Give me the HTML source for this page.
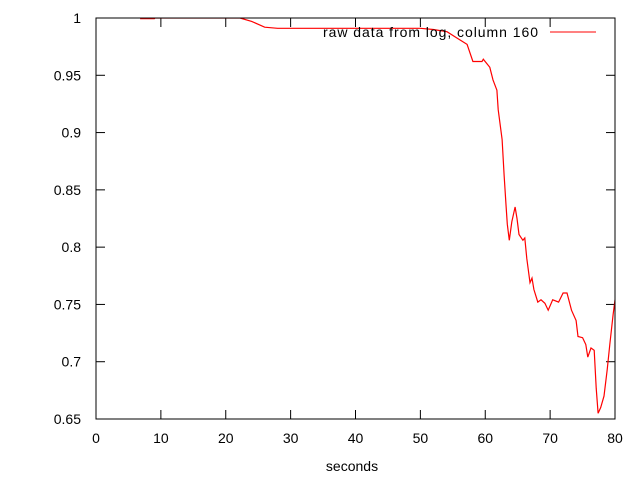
<!DOCTYPE html>
<html><head><meta charset="utf-8"><style>
body{margin:0;background:#fff}
svg{display:block;font-family:"Liberation Sans",sans-serif;font-size:14px}
</style></head><body>
<svg id="chart" width="640" height="480">
<defs><clipPath id="clip"><rect x="96" y="18" width="519" height="401"/></clipPath></defs>
<g id="axes"></g>
<g id="series" clip-path="url(#clip)"></g>
<rect x="96" y="18" width="519" height="401" fill="none" stroke="#000" stroke-width="1"/>
<text x="352" y="471" text-anchor="middle" fill="#000">seconds</text>
<text x="323" y="37" textLength="215" lengthAdjust="spacing" fill="#000">raw data from log, column 160</text>
<line x1="550" y1="32" x2="596" y2="32" stroke="#f00" stroke-width="1"/>
</svg>
<script>
const xTicks=[0,10,20,30,40,50,60,70,80];
const yTicks=[0.65,0.7,0.75,0.8,0.85,0.9,0.95,1];
const yTickLabels=["0.65","0.7","0.75","0.8","0.85","0.9","0.95","1"];
const times=[6.8,9,9.1,22.2,24,26,28,30,35,40,45,50,52,54.1,55.5,57.2,58.1,59.5,59.7,60.7,61.2,61.8,62,62.6,62.9,63.2,63.4,63.7,64.1,64.6,64.9,65.2,65.8,66.1,66.4,66.9,67.2,67.5,68.1,68.6,69.2,69.7,70.4,71.3,72,72.6,73.3,74,74.3,75,75.5,75.8,76.3,76.8,77.1,77.4,77.8,78.3,78.8,79.2,79.7,80];
const values=[0.9995,0.9995,1,1,0.997,0.992,0.991,0.991,0.991,0.991,0.991,0.991,0.99,0.988,0.983,0.977,0.962,0.962,0.964,0.957,0.946,0.937,0.92,0.894,0.863,0.837,0.82,0.806,0.822,0.835,0.825,0.811,0.806,0.808,0.79,0.769,0.773,0.763,0.752,0.754,0.751,0.745,0.754,0.752,0.76,0.76,0.745,0.736,0.722,0.721,0.715,0.704,0.712,0.71,0.677,0.655,0.66,0.67,0.693,0.715,0.741,0.754];
const X=t=>96+t*(519/80);
const Y=v=>18+(1-v)*(401/0.35);
const ns="http://www.w3.org/2000/svg";
const axes=document.getElementById('axes');
function mk(tag,attrs,parent){const e=document.createElementNS(ns,tag);for(const k in attrs)e.setAttribute(k,attrs[k]);parent.appendChild(e);return e;}
xTicks.forEach(t=>{
 const x=X(t);
 const l1=mk('line',{x1:x,y1:419,x2:x,y2:410,stroke:'#000'},axes);
 
 
 const l2=mk('line',{x1:x,y1:18,x2:x,y2:27,stroke:'#000'},axes);
 
 
 const tx=mk('text',{x:x,y:443,'text-anchor':'middle'},axes);tx.textContent=t;
 
 
});
yTicks.forEach((v,i)=>{
 const y=Y(v);
 const l1=mk('line',{x1:96,y1:y,x2:105,y2:y,stroke:'#000'},axes);
 
 
 const l2=mk('line',{x1:615,y1:y,x2:606,y2:y,stroke:'#000'},axes);
 
 
 const tx=mk('text',{x:81,y:y+5,'text-anchor':'end'},axes);tx.textContent=yTickLabels[i];
 
 
});
const pts=times.map((t,i)=>X(t).toFixed(1)+','+Y(values[i]).toFixed(1)).join(' ');
const line=mk('polyline',{points:pts,fill:'none',stroke:'#f00','stroke-width':1.2},document.getElementById('series'));


</script>
</body></html>
